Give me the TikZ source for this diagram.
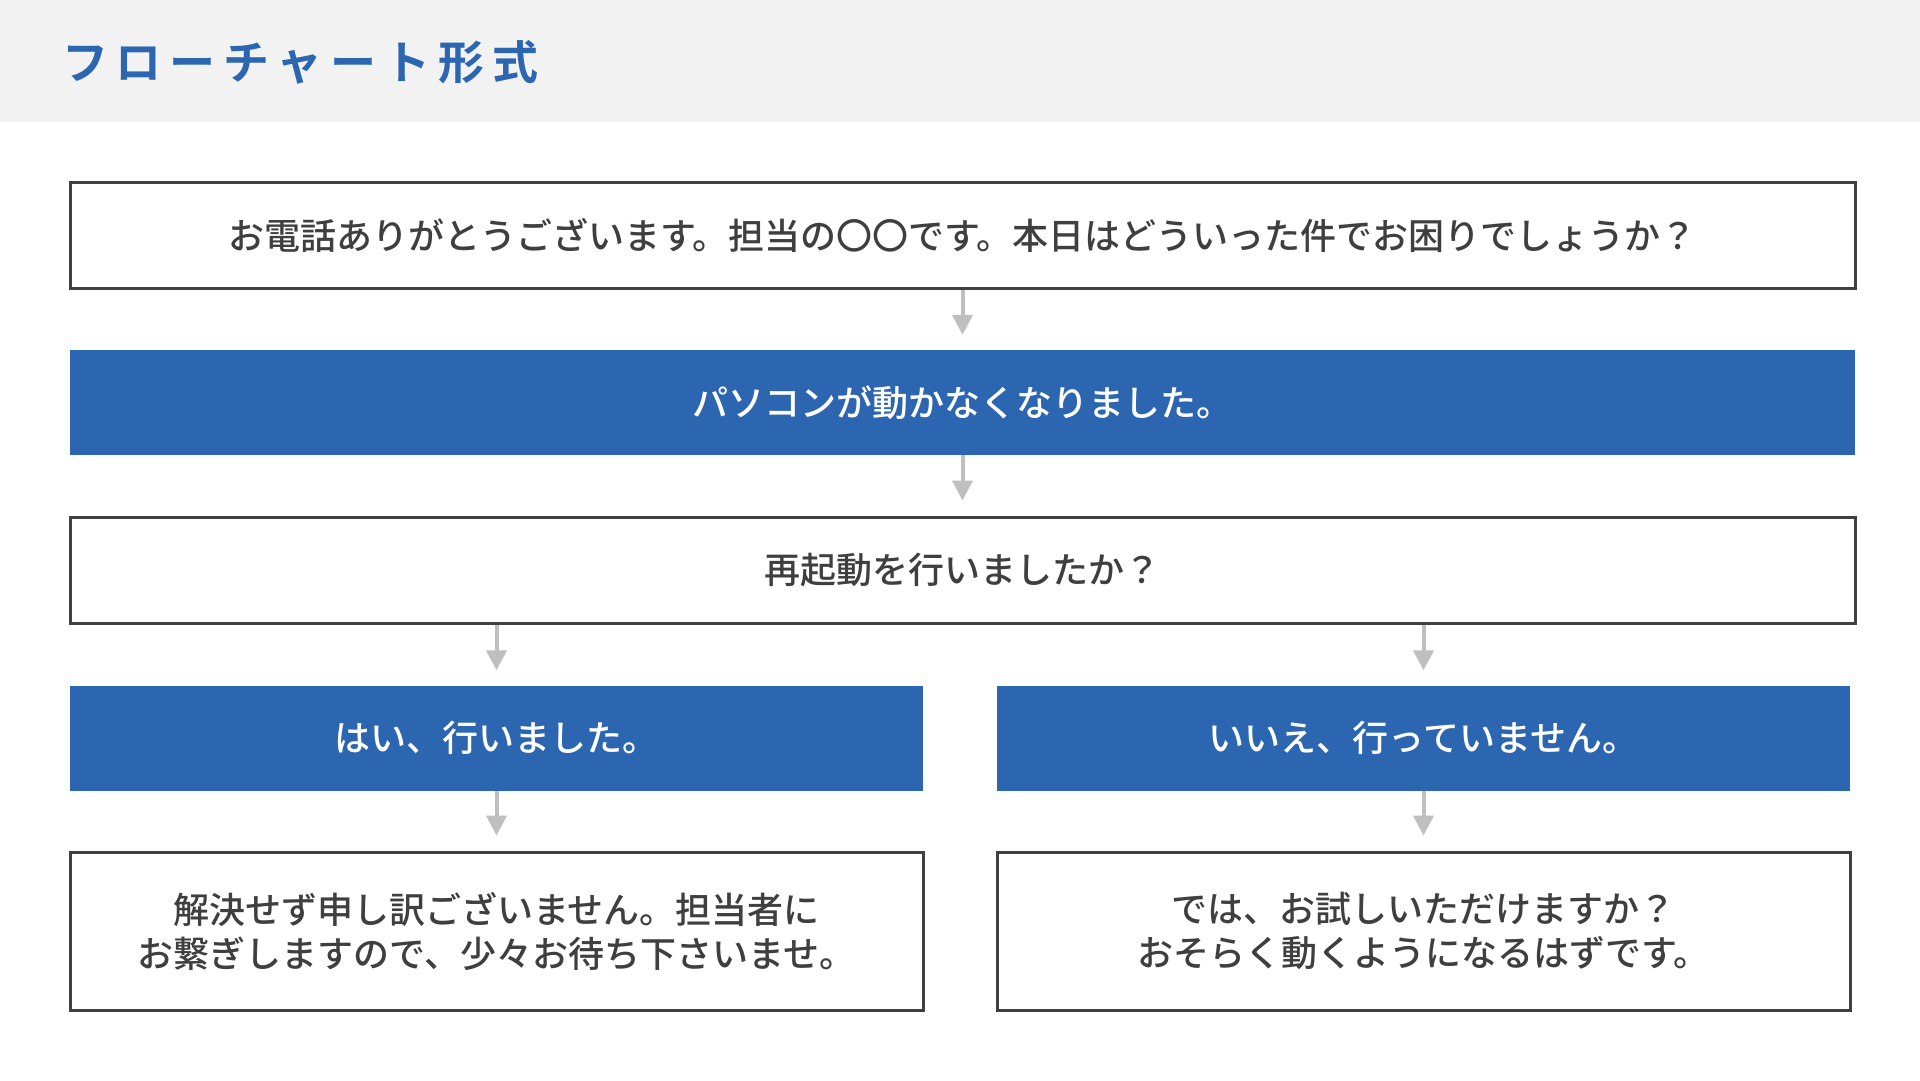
\documentclass[tikz,border=0pt]{standalone}
\usepackage{fontspec}
\setmainfont{Noto Sans CJK JP Medium}[BoldFont={Noto Sans CJK JP Bold}]
\usepackage{tikz}
\usetikzlibrary{arrows.meta}

\definecolor{headgray}{HTML}{F2F2F2}
\definecolor{flowblue}{HTML}{2C65B0}
\definecolor{linegray}{HTML}{404040}
\definecolor{arrowgray}{HTML}{BFBFBF}
\definecolor{textgray}{HTML}{3F3F3F}

\begin{document}
\begin{tikzpicture}[x=1pt, y=1pt,
	every node/.style={align=center, inner sep=0pt, font=\fontsize{36pt}{44pt}\selectfont},
	plainbox/.style={rectangle, draw=linegray, line width=3pt, fill=white, text=textgray, minimum height=106pt},
	bluebox/.style={rectangle, fill=flowblue, text=white, minimum height=105pt},
	widebox/.style={minimum width=1785pt},
	colbox/.style={minimum width=853pt},
	flow/.style={draw=arrowgray, line width=4pt, -{Triangle[width=20pt,length=20pt,fill=arrowgray]}, shorten >=15pt},
	node distance=167.5pt]
	\useasboundingbox (0,0) rectangle (1920,-1080);
	\fill[headgray] (0,0) rectangle (1920,-122);
	\node[anchor=west, text=flowblue, font=\fontsize{46pt}{52pt}\selectfont\bfseries\addfontfeature{LetterSpace=17}] (title) at (62,-62) {フローチャート形式};
	
	\node[plainbox, widebox] (greet) at (962.5,-235) {お電話ありがとうございます。担当の〇〇です。本日はどういった件でお困りでしょうか？};
	\node[bluebox, widebox, below of=greet] (pc) {パソコンが動かなくなりました。};
	\node[plainbox, widebox, below of=pc] (restart) {再起動を行いましたか？};
	\node[bluebox, colbox] (yes) at (496.5,-738) {はい、行いました。};
	\node[bluebox, colbox, right of=yes, node distance=927pt] (no) {いいえ、行っていません。};
	\node[plainbox, colbox, minimum height=158pt, below of=yes, node distance=193pt] (sorry) {解決せず申し訳ございません。担当者に\\お繋ぎしますので、少々お待ち下さいませ。};
	\node[plainbox, colbox, minimum height=158pt, right of=sorry, node distance=927pt] (try) {では、お試しいただけますか？\\おそらく動くようになるはずです。};
	
	\path (greet) edge[flow] (pc);
	\path (pc) edge[flow] (restart);
	\path (restart.south -| yes) edge[flow] (yes);
	\path (restart.south -| no) edge[flow] (no);
	\path (yes) edge[flow] (sorry);
	\path (no) edge[flow] (try);
\end{tikzpicture}
\end{document}
